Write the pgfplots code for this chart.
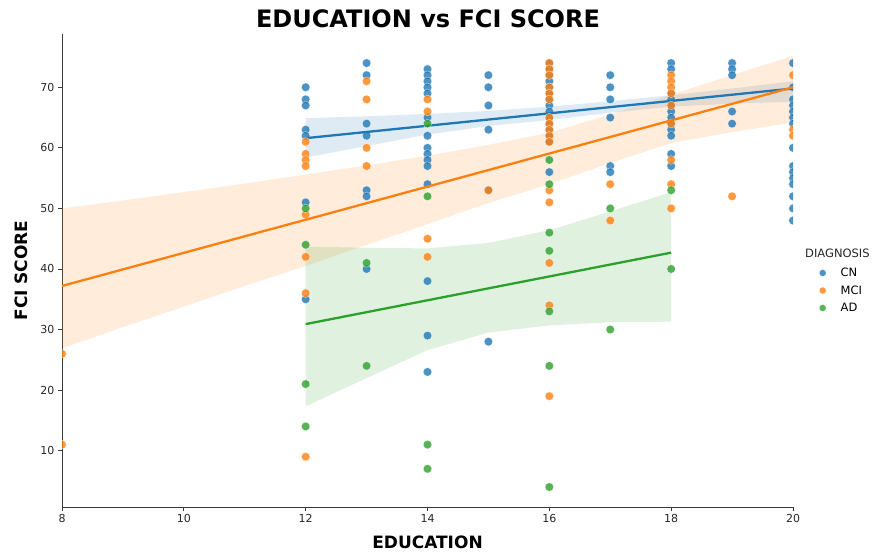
\documentclass[border=0pt]{standalone}
\usepackage{fontspec}
\setmainfont{DejaVu Sans}
\usepackage{pgfplots}
\pgfplotsset{compat=1.18}
\usepgfplotslibrary{fillbetween}
\definecolor{cnc}{HTML}{1F77B4}
\definecolor{mcic}{HTML}{FF7F0E}
\definecolor{adc}{HTML}{2CA02C}
\definecolor{spine}{HTML}{3A3A3A}
\definecolor{ticktext}{HTML}{262626}
\begin{document}
\begin{tikzpicture}
\begin{axis}[
  at={(62pt,45pt)}, anchor=south west,
  scale only axis, width=731pt, height=473pt,
  xmin=8, xmax=20, ymin=0.7, ymax=78.8,
  axis x line*=bottom, axis y line*=left,
  axis line style={spine, line width=0.8pt},
  xtick={8,10,12,14,16,18,20}, ytick={10,20,30,40,50,60,70},
  tick style={spine, line width=0.8pt}, tick align=outside, major tick length=4pt,
  tick label style={font=\fontsize{11}{13}\selectfont, text=ticktext},
  /pgf/number format/assume math mode=true,
  xlabel={EDUCATION}, ylabel={FCI SCORE},
  label style={font=\fontsize{17}{20}\selectfont\bfseries, text=black},
  xlabel style={at={(axis description cs:0.5,-0.074)}, anchor=center},
  ylabel style={at={(axis description cs:-0.055,0.5)}, anchor=center},
  title={EDUCATION vs FCI SCORE},
  title style={font=\fontsize{24}{28}\selectfont\bfseries, at={(axis description cs:0.5007,1.019)}, anchor=center},
  clip marker paths=true,
  legend style={draw=none, fill=none, at={(axis description cs:1.0335,0.510)}, anchor=north west,
    font=\fontsize{11.5}{13}\selectfont, row sep=3.5pt, inner sep=0pt, legend cell align=left},
  legend image code/.code={\path[draw=none] (0pt,0pt) (21pt,0pt); \draw[#1, only marks, mark size=3.5pt] plot coordinates {(5pt,0pt)};},
  scat/.style={only marks, mark=*, mark size=4.3pt, mark options={fill=#1, draw=white, line width=0.3pt, opacity=0.8}},
]
% ---------------- CN ----------------
\addplot[scat=cnc] coordinates {
(12,70)(12,68)(12,67)(12,63)(12,62)(12,51)(12,35)
(13,74)(13,72)(13,64)(13,62)(13,53)(13,52)(13,40)
(14,73)(14,72)(14,71)(14,70)(14,69)(14,65)(14,62)(14,60)(14,59)(14,58)(14,57)(14,54)(14,38)(14,29)(14,23)
(15,72)(15,70)(15,67)(15,63)(15,53)(15,28)
(16,74)(16,73)(16,72)(16,71)(16,70)(16,69)(16,68)(16,67)(16,66)(16,65)(16,64)(16,63)(16,62)(16,61)(16,56)
(17,72)(17,70)(17,68)(17,65)(17,57)(17,56)
(18,74)(18,73)(18,69)(18,68)(18,67)(18,66)(18,65)(18,64)(18,63)(18,62)(18,59)(18,57)
(19,74)(19,73)(19,72)(19,66)(19,64)
(20,74)(20,70)(20,68)(20,67)(20,66)(20,65)(20,64)(20,60)(20,57)(20,56)(20,55)(20,54)(20,52)(20,50)(20,48)
};
\addlegendentry{CN}
\addplot[cnc, line width=2.3pt, forget plot] coordinates {(12,61.6)(20,69.8)};
\addplot[name path=cnU, draw=none, forget plot] coordinates {(12,64.9)(13,65.2)(14,65.6)(15,66.1)(16,66.8)(17,67.7)(18,68.7)(19,69.8)(20,71.0)};
\addplot[name path=cnL, draw=none, forget plot] coordinates {(12,58.4)(13,60.3)(14,62.2)(15,63.6)(16,64.6)(17,65.8)(18,66.8)(19,67.3)(20,67.6)};
\addplot[cnc, fill opacity=0.15, draw=none, forget plot] fill between[of=cnU and cnL];
% ---------------- MCI ----------------
\addplot[scat=mcic] coordinates {
(8,26)(8,11)
(12,61)(12,59)(12,58)(12,57)(12,49)(12,42)(12,36)(12,9)
(13,71)(13,68)(13,60)(13,57)
(14,68)(14,66)(14,45)(14,42)
(15,53)
(16,74)(16,73)(16,72)(16,70)(16,69)(16,68)(16,65)(16,64)(16,63)(16,62)(16,61)(16,53)(16,51)(16,41)(16,34)(16,19)
(17,54)(17,48)
(18,72)(18,71)(18,70)(18,69)(18,67)(18,64)(18,58)(18,54)(18,50)
(19,52)
(20,72)(20,63)(20,62)
};
\addlegendentry{MCI}
\addplot[mcic, line width=2.3pt, forget plot] coordinates {(8,37.2)(20,70.0)};
\addplot[name path=mciU, draw=none, forget plot] coordinates {(8,50.0)(9,51.3)(10,52.7)(11,54.1)(12,55.6)(13,57.1)(14,58.7)(15,60.5)(16,62.5)(17,65.5)(18,68.8)(19,72.0)(20,75.2)};
\addplot[name path=mciL, draw=none, forget plot] coordinates {(8,26.9)(9,30.4)(10,33.8)(11,37.2)(12,40.5)(13,44.0)(14,47.4)(15,50.9)(16,54.0)(17,57.5)(18,60.8)(19,62.6)(20,64.2)};
\addplot[mcic, fill opacity=0.15, draw=none, forget plot] fill between[of=mciU and mciL];
% ---------------- AD ----------------
\addplot[scat=adc] coordinates {
(12,50)(12,44)(12,21)(12,14)
(13,41)(13,24)
(14,64)(14,52)(14,11)(14,7)
(16,58)(16,54)(16,46)(16,43)(16,33)(16,24)(16,4)
(17,50)(17,30)
(18,53)(18,40)
};
\addlegendentry{AD}
\addplot[adc, line width=2.3pt, forget plot] coordinates {(12,30.9)(18,42.7)};
\addplot[name path=adU, draw=none, forget plot] coordinates {(12,43.7)(13,43.5)(14,43.4)(15,44.3)(16,46.4)(17,49.5)(18,52.7)};
\addplot[name path=adL, draw=none, forget plot] coordinates {(12,17.3)(13,22.0)(14,26.6)(15,29.5)(16,30.7)(17,31.2)(18,31.3)};
\addplot[adc, fill opacity=0.15, draw=none, forget plot] fill between[of=adU and adL];
\end{axis}
\node[anchor=west, font=\fontsize{11.5}{13}\selectfont, text=ticktext, inner sep=0pt] at (805pt,299pt) {DIAGNOSIS};
\pgfresetboundingbox
\path[use as bounding box] (0,0) rectangle (872pt,552pt);
\end{tikzpicture}
\end{document}
